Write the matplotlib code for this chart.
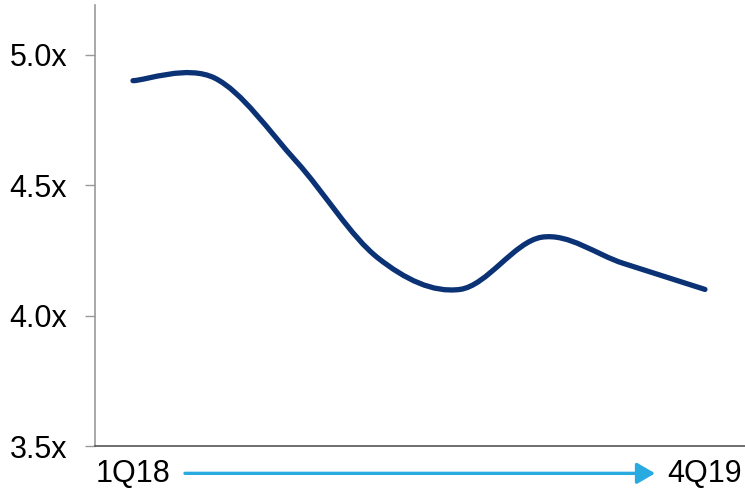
import matplotlib.pyplot as plt
from matplotlib.path import Path
from matplotlib.patches import PathPatch

plt.rcParams["font.family"] = ["Liberation Sans", "DejaVu Sans"]

quarters = ["1Q18", "2Q18", "3Q18", "4Q18", "1Q19", "2Q19", "3Q19", "4Q19"]
leverage = [4.90, 4.91, 4.59, 4.22, 4.10, 4.30, 4.20, 4.10]
y_ticks = [3.5, 4.0, 4.5, 5.0]
y_labels = ["3.5x", "4.0x", "4.5x", "5.0x"]

LINE = "#0B3275"
ARROW = "#29ABE2"


def smooth_path(xs, ys):
    # Excel-style smoothed line: cubic Bezier segments, tangent from neighbours
    n = len(xs)
    verts = [(xs[0], ys[0])]
    codes = [Path.MOVETO]
    for i in range(n - 1):
        p0 = max(i - 1, 0)
        p3 = min(i + 2, n - 1)
        c1 = (xs[i] + (xs[i + 1] - xs[p0]) / 6, ys[i] + (ys[i + 1] - ys[p0]) / 6)
        c2 = (xs[i + 1] - (xs[p3] - xs[i]) / 6, ys[i + 1] - (ys[p3] - ys[i]) / 6)
        verts += [c1, c2, (xs[i + 1], ys[i + 1])]
        codes += [Path.CURVE4] * 3
    return Path(verts, codes)


fig = plt.figure(figsize=(7.45, 4.91), dpi=100)
ax = fig.add_axes([95 / 745, 1 - 446 / 491, 650 / 745, 441 / 491])

xs = list(range(len(quarters)))
ax.add_patch(PathPatch(smooth_path(xs, leverage), facecolor="none",
                       edgecolor=LINE, lw=3.8, capstyle="round", joinstyle="round"))

ax.set_xlim(-0.465, 7.49)
ax.set_ylim(3.5, 5.19)
ax.set_yticks(y_ticks)
ax.set_yticklabels(y_labels, fontsize=22)
ax.set_xticks([0, 7])
ax.set_xticklabels([quarters[0], quarters[-1]], fontsize=22)

ax.tick_params(axis="y", length=7, width=1, color="#999999", pad=13)
ax.tick_params(axis="x", length=0, pad=9.5)

for s in ["top", "right"]:
    ax.spines[s].set_visible(False)
ax.spines["left"].set_color("#999999")
ax.spines["bottom"].set_color("#555555")
ax.spines["left"].set_linewidth(1.2)
ax.spines["bottom"].set_linewidth(1.2)

# arrow between the two period labels
trans = ax.get_xaxis_transform()
ax.annotate("", xy=(6.39, -0.062), xytext=(0.636, -0.062),
            xycoords=trans, textcoords=trans, annotation_clip=False,
            arrowprops=dict(arrowstyle="-|>,head_length=0.55,head_width=0.32",
                            mutation_scale=20, color=ARROW, lw=2.4,
                            shrinkA=0, shrinkB=0))

fig.savefig("out.png", dpi=100)
